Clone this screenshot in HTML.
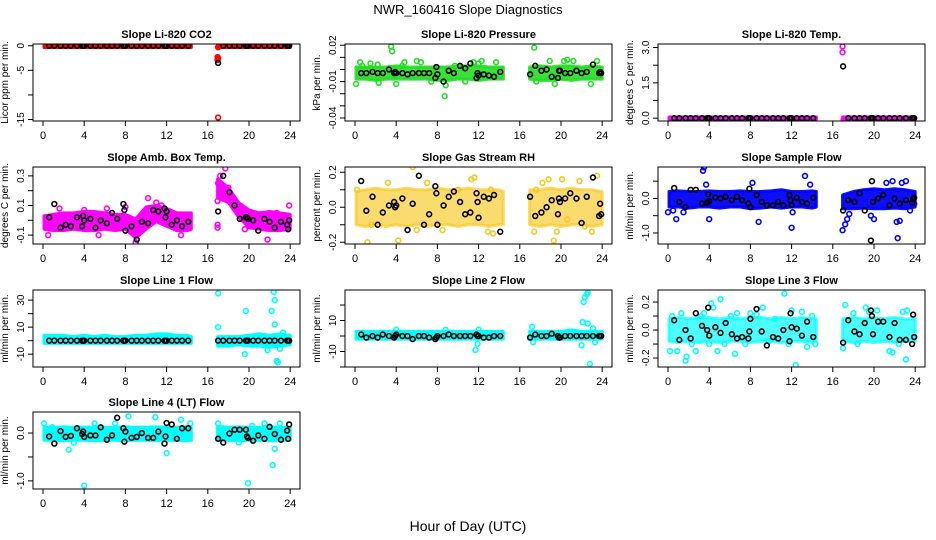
<!DOCTYPE html>
<html><head><meta charset="utf-8"><style>
html,body{margin:0;padding:0;background:#fff;}
svg{display:block;font-family:"Liberation Sans",sans-serif;}
</style></head><body>
<svg id="chart" width="936" height="540" viewBox="0 0 936 540" xmlns="http://www.w3.org/2000/svg">
<text x="468" y="14" font-size="13" text-anchor="middle">NWR_160416  Slope Diagnostics</text>
<text x="468" y="531" font-size="14" text-anchor="middle">Hour of Day (UTC)</text>
</svg>
<script>
// shared hours
const bandH1 = [0.1,1,2,3,4,5,6,7,8,9,10,11,12,13,14,14.4];
const bandH2 = [16.95,18,19,20,21,22,23,24];
const blkH = [0.6,1.1,1.7,2.2,2.7,3.3,3.8,3.9,4.0,4.6,5.1,5.6,6.2,6.7,7.2,7.8,7.9,8.0,8.6,9.1,9.6,10.2,10.7,11.2,11.8,11.9,12.0,12.5,13.0,13.5,14.1,
  17.0,17.5,18.1,18.6,19.1,19.7,19.8,19.9,20.4,20.9,21.5,22.0,22.5,23.1,23.7,23.8,23.9];
const xTicks = [0,4,8,12,16,20,24];

// CO2
const co2Lo = [-0.35,-0.35,-0.35,-0.35,-0.35,-0.35,-0.35,-0.35,-0.35,-0.35,-0.35,-0.35,-0.35,-0.35,-0.35,-0.35, -0.35,-0.35,-0.35,-0.35,-0.35,-0.35,-0.35,-0.35];
const co2Hi = [0.35,0.35,0.35,0.35,0.35,0.35,0.35,0.35,0.35,0.35,0.35,0.35,0.35,0.35,0.35,0.35, 0.35,0.35,0.35,0.35,0.35,0.35,0.35,0.35];
const co2OutH = [16.95,17.0,16.95,17.0,17.0];
const co2OutV = [-2.3,-2.6,-2.9,-14.6,-0.3];
const co2Blk = [0,0,0,0,0,0,0,0,0,0,0,0,0,0,0,0,0,0,0,0,0,0,0,0,0,0,0,0,0,0,0, -3.5,0,0,0,0,0,0,0,0,0,0,0,0,0,0,0,0];

// Pressure
const presLo = [-0.008,-0.008,-0.009,-0.008,-0.008,-0.008,-0.008,-0.008,-0.009,-0.009,-0.008,-0.008,-0.009,-0.008,-0.008,-0.008, -0.008,-0.009,-0.009,-0.008,-0.009,-0.008,-0.008,-0.008];
const presHi = [0.002,0.002,0.002,0.002,0.003,0.002,0.002,0.002,0.002,0.002,0.003,0.003,0.003,0.002,0.002,0.002, 0.002,0.003,0.002,0.003,0.003,0.002,0.003,0.002];
const presOutH = [0.1,0.5,0.7,1.5,2.3,2.2,3.5,3.6,4.0,4.6,4.8,6.0,6.4,7.4,7.9,8.7,8.8,9.7,10.7,11.5,12.0,12.3,13.7,17.4,17.6,18.9,19.4,20.3,20.6,21.2,22.9,23.5,23.9];
const presOutV = [-0.012,0.006,0.003,0.005,-0.011,0.004,0.019,0.015,-0.012,0.003,0.006,0.007,0.006,-0.01,-0.045,-0.022,-0.013,0.003,-0.01,0.006,0.005,0.007,0.006,0.018,-0.01,0.007,-0.012,0.007,0.008,0.007,-0.012,0.007,-0.046];
const presBlk = [-0.003,-0.003,-0.002,-0.003,-0.003,0.0,-0.003,-0.002,-0.003,-0.003,-0.004,-0.003,-0.003,-0.003,-0.003,-0.007,0.002,-0.004,-0.010,-0.001,-0.003,0.003,0.001,0.005,-0.007,-0.003,-0.005,-0.004,-0.005,-0.006,-0.002,
  -0.004,0.003,-0.001,0.0,-0.006,-0.007,-0.001,-0.001,-0.003,-0.003,-0.001,-0.003,-0.002,0.004,-0.003,-0.002,-0.003];

// Li-820 Temp
const tempLo = [-0.05,-0.05,-0.05,-0.05,-0.05,-0.05,-0.05,-0.05,-0.05,-0.05,-0.05,-0.05,-0.05,-0.05,-0.05,-0.05, -0.05,-0.05,-0.05,-0.05,-0.05,-0.05,-0.05,-0.05];
const tempHi = [0.05,0.05,0.05,0.05,0.05,0.05,0.05,0.05,0.05,0.05,0.05,0.05,0.05,0.05,0.05,0.05, 0.05,0.05,0.05,0.05,0.05,0.05,0.05,0.05];
const tempOutH = [16.95,16.95,17.05,17.05];
const tempOutV = [3.05,2.8,-0.1,-0.05];
const tempBlk = [0,0,0,0,0,0,0,0,0,0,0,0,0,0,0,0,0,0,0,0,0,0,0,0,0,0,0,0,0,0,0, 2.2,0,0,0,0,0,0,0,0,0,0,0,0,0,0,0,0];

// Amb box temp
const ambLo = [-0.06,-0.07,-0.07,-0.06,-0.07,-0.07,-0.06,-0.07,-0.06,-0.12,-0.06,-0.01,-0.04,-0.07,-0.07,-0.06, 0.15,0.12,0.02,-0.05,-0.06,-0.07,-0.07,-0.06];
const ambHi = [0.03,0.04,0.05,0.05,0.06,0.06,0.05,0.04,0.04,0.01,0.09,0.1,0.08,0.05,0.05,0.05, 0.28,0.22,0.12,0.07,0.05,0.06,0.05,0.04];
const ambOutH = [0.5,1.6,4.0,5.4,6.2,8.0,9.0,10.2,11.0,11.5,13.4,16.95,16.95,16.95,17.2,17.0,17.7,18.0,21.8,23.9,19.6,22.7];
const ambOutV = [-0.1,0.08,0.07,-0.1,0.08,0.09,-0.15,0.15,0.12,0.1,-0.1,0.13,-0.03,-0.05,0.3,0.25,0.35,0.22,-0.13,0.1,-0.06,0.05];
const ambBlk = [0.02,0.11,-0.05,-0.03,-0.04,0.02,-0.04,0.03,0.0,0.01,-0.05,0.0,-0.02,0.05,0.01,0.11,0.07,-0.07,-0.04,-0.13,-0.01,-0.02,0.07,0.06,0.08,0.02,0.06,-0.03,0.0,-0.04,-0.01,
  0.06,0.30,0.19,0.10,0.01,0.02,0.02,0.01,0.0,-0.07,0.01,-0.01,-0.05,-0.01,-0.03,-0.06,0.0];

// Gas stream RH
const rhLo = [-0.1,-0.11,-0.1,-0.11,-0.1,-0.11,-0.1,-0.11,-0.1,-0.1,-0.11,-0.1,-0.1,-0.11,-0.1,-0.1, -0.1,-0.11,-0.1,-0.11,-0.1,-0.1,-0.11,-0.1];
const rhHi = [0.09,0.1,0.11,0.1,0.1,0.11,0.1,0.1,0.11,0.1,0.1,0.11,0.1,0.1,0.1,0.09, 0.1,0.1,0.11,0.1,0.11,0.1,0.1,0.09];
const rhOutH = [0.2,1.2,1.6,3.2,4.2,5.6,6.0,7.0,8.5,10.0,11.3,11.6,12.9,13.4,13.2,17.4,17.6,18.2,18.8,19.3,19.6,20.1,20.6,21.8,22.3,23.0,23.5];
const rhOutV = [0.1,-0.2,-0.1,0.14,-0.19,0.23,-0.13,0.14,-0.13,0.1,0.16,0.17,-0.14,-0.15,0.1,-0.14,0.1,0.14,0.16,-0.19,-0.14,0.16,-0.07,0.15,-0.11,-0.14,0.18];
const rhBlk = [0.15,-0.02,0.06,-0.1,-0.03,0.01,0.03,0.0,0.01,0.05,-0.13,0.02,0.18,-0.1,-0.04,0.12,0.08,-0.1,0.01,0.06,0.09,0.03,-0.04,-0.03,0.08,0.03,-0.06,0.06,0.05,0.07,-0.14,
  0.06,-0.05,-0.03,0.0,0.04,-0.04,0.05,0.03,0.05,0.08,0.05,-0.09,0.06,0.17,-0.05,0.02,-0.04];

// Sample flow
const smpLo = [-0.25,-0.25,-0.28,-0.25,-0.25,-0.28,-0.25,-0.25,-0.3,-0.28,-0.25,-0.28,-0.25,-0.25,-0.28,-0.25, -0.3,-0.3,-0.28,-0.3,-0.3,-0.28,-0.3,-0.25];
const smpHi = [0.2,0.22,0.2,0.2,0.22,0.2,0.2,0.22,0.2,0.2,0.22,0.25,0.2,0.2,0.22,0.2, 0.1,0.2,0.25,0.28,0.25,0.28,0.25,0.2];
const smpOutH = [0.0,0.5,0.8,1.5,3.4,3.5,3.7,4.0,8.2,8.8,12.0,12.1,13.3,13.8,16.95,17.2,17.4,17.6,19.7,20.0,21.2,21.8,22.2,22.5,22.3,22.7,23.1,23.5,23.9];
const smpOutV = [-0.4,-0.35,-0.6,-0.4,0.8,0.9,0.4,-0.6,0.45,-0.68,-0.85,-0.4,0.65,0.4,-0.92,-0.75,-0.6,-0.45,-0.5,-0.6,0.45,0.5,-0.68,-0.65,-1.15,0.45,0.5,-0.35,-0.15];
const smpBlk = [0.3,-0.1,-0.25,0.25,0.25,-0.15,-0.12,0.12,-0.08,0.03,0.0,0.05,-0.05,0.05,-0.05,-0.15,0.28,-0.25,0.1,-0.1,-0.2,-0.2,-0.1,-0.2,0.1,-0.05,-0.2,0.02,-0.1,-0.15,0.02,
  -0.35,-0.05,-0.1,0.15,-0.35,-1.22,0.5,-0.1,0.0,0.1,-0.2,0.0,-0.15,-0.05,-0.12,-0.02,0.02];

// Line 1
const l1Lo = [-2,-2,-2,-2,-2,-2,-2,-2,-2,-2,-2,-2,-2,-2,-2,-2, -4,-4,-3,-4,-4,-5,-4,-3];
const l1Hi = [4,4,4,3,4,3,4,3,3,4,4,5,5,4,4,3, 3,3,3,4,5,4,5,4];
const l1OutH = [17.0,17.0,19.7,19.6,22.2,22.4,22.5,22.5,22.7,22.8,23.0,23.3,21.8,18.0];
const l1OutV = [35,10,22,-10,22,36,30,12,-15,-16,-6,6,-7,2];
const l1Blk = [0,0,0,0,0,0,0,0,0,0,0,0,0,0,0,0,0,0,0,0,0,0,0,0,0,0,0,0,0,0,0, 0,0,0,0,0,0,0,0,0,0,0,0,0,0,0,0,0];

// Line 2
const l2Lo = [-2,-2,-2,-2,-2,-2,-2,-2,-2,-2,-2,-2,-2,-2,-2,-2, -2,-2,-2,-2,-2,-2,-2,-2];
const l2Hi = [3,3,3,3,3,3,3,3,3,3,3,3,3,3,3,3, 3,3,3,3,4,3,3,3];
const l2OutH = [17.2,17.3,22.0,22.1,22.2,22.3,22.5,22.6,22.6,22.8,23.1,23.3,11.7,11.9,12.0,4.0,8.8];
const l2OutV = [6,-4,-6,9,22,25,27,28,8,-18,5,-4,-9,-5,4,4,4];
const l2Blk = [1,-1,0,-1,1,0,-1,0,1,0,0,-2,0,0,-1,-2,-1,0,0,1,0,0,0,0,1,0,0,-1,-1,0,0,
  -1,1,0,0,1.5,0,-1,-1,0,0,0,0,0,0,0,0,0];

// Line 3
const l3Lo = [-0.08,-0.09,-0.08,-0.09,-0.08,-0.09,-0.08,-0.08,-0.09,-0.08,-0.08,-0.09,-0.08,-0.08,-0.09,-0.08, -0.08,-0.09,-0.08,-0.09,-0.08,-0.09,-0.08,-0.08];
const l3Hi = [0.08,0.09,0.08,0.09,0.09,0.08,0.09,0.08,0.09,0.09,0.08,0.09,0.08,0.09,0.08,0.08, 0.08,0.09,0.08,0.09,0.08,0.09,0.08,0.08];
const l3OutH = [0.2,0.4,0.9,1.3,1.7,1.8,2.3,2.7,3.2,3.5,4.0,4.2,4.4,4.8,5.1,5.5,6.1,6.5,6.7,7.5,8.0,8.6,9.2,9.8,10.4,11.3,11.7,12.0,12.4,13.0,13.5,14.0,14.3,17.0,17.2,18.0,18.4,19.2,19.5,20.3,21.5,21.8,22.4,22.8,23.1,23.2];
const l3OutV = [-0.15,0.1,-0.15,0.12,-0.22,-0.19,-0.1,-0.15,0.1,0.12,-0.1,0.19,0.16,-0.15,0.22,-0.1,0.1,-0.17,0.12,-0.1,0.12,0.11,0.16,-0.08,0.08,0.26,-0.1,0.14,-0.25,0.13,-0.12,0.1,-0.1,-0.13,0.18,0.12,-0.1,0.16,0.13,0.14,-0.15,-0.16,-0.1,0.13,-0.21,0.14];
const l3Blk = [0.07,-0.07,0.0,-0.06,0.12,0.03,0.0,0.16,-0.04,0.02,-0.02,0.05,-0.03,-0.06,-0.05,-0.06,-0.01,0.08,0.15,-0.01,-0.11,-0.05,-0.06,0.0,-0.08,0.12,0.02,0.01,-0.04,0.06,-0.05,
  -0.09,0.07,-0.01,-0.03,0.05,0.14,0.1,-0.03,0.06,0.06,-0.05,0.05,-0.07,-0.07,-0.1,0.11,-0.05];

// Line 4 (LT)
const l4Lo = [-0.15,-0.15,-0.16,-0.15,-0.15,-0.16,-0.15,-0.15,-0.16,-0.15,-0.15,-0.16,-0.15,-0.15,-0.16,-0.15, -0.15,-0.15,-0.16,-0.15,-0.15,-0.16,-0.15,-0.15];
const l4Hi = [0.12,0.12,0.13,0.12,0.12,0.13,0.12,0.12,0.13,0.12,0.12,0.13,0.12,0.12,0.13,0.12, 0.14,0.12,0.13,0.12,0.12,0.13,0.12,0.12];
const l4OutH = [0.1,0.9,2.5,3.0,4.0,5.0,7.0,8.3,10.9,12.0,13.4,14.3,17.0,19.0,19.9,20.3,21.5,22.3,22.5,23.0];
const l4OutV = [0.2,0.12,-0.35,-0.2,-1.1,0.2,0.2,0.35,0.33,-0.42,0.28,0.2,0.2,-0.2,-1.05,0.15,0.2,-0.67,-0.33,0.2];
const l4Blk = [-0.07,-0.22,0.04,-0.08,-0.06,0.1,-0.02,0.03,-0.08,-0.05,-0.05,0.12,-0.14,-0.05,0.32,0.1,-0.18,0.03,-0.1,-0.08,0.0,-0.1,-0.1,0.03,-0.22,-0.07,0.21,0.18,-0.12,0.1,0.1,
  -0.12,-0.2,-0.01,0.07,0.07,0.07,-0.07,-0.1,-0.16,-0.05,-0.12,0.13,-0.02,-0.14,0.05,-0.12,0.18];

const NS = "http://www.w3.org/2000/svg";
const svg = document.getElementById('chart');
function mk(tag, attrs, parent){ const e=document.createElementNS(NS,tag); for(const k in attrs) e.setAttribute(k,attrs[k]); (parent||svg).appendChild(e); return e; }

const panels = [
 {id:'co2',title:'Slope Li-820 CO2',ylab:'Licor ppm per min.',col:0,row:0,ymin:-15.3,ymax:0.35,yt:[0,-5,-10,-15],yl:{'0':'0','-5':'-5','-15':'-15'},color:'#ff0000',op:1,lo:co2Lo,hi:co2Hi,oh:co2OutH,ov:co2OutV,blk:co2Blk},
 {id:'pressure',title:'Slope Li-820 Pressure',ylab:'kPa per min.',col:1,row:0,ymin:-0.0425,ymax:0.021,yt:[0.02,0.01,0,-0.01,-0.02,-0.03,-0.04],yl:{'0.02':'0.02','-0.01':'-0.01','-0.04':'-0.04'},color:'#22dd22',op:0.9,lo:presLo,hi:presHi,oh:presOutH,ov:presOutV,blk:presBlk},
 {id:'li820-temp',title:'Slope Li-820 Temp.',ylab:'degrees C per min.',col:2,row:0,ymin:-0.12,ymax:3.15,yt:[0,0.75,1.5,2.25,3.0],yl:{'0':'0.0','1.5':'1.5','3':'3.0'},color:'#ff00ff',op:1,lo:tempLo,hi:tempHi,oh:tempOutH,ov:tempOutV,blk:tempBlk},
 {id:'amb-box-temp',title:'Slope Amb. Box Temp.',ylab:'degrees C per min.',col:0,row:1,ymin:-0.16,ymax:0.36,yt:[-0.1,0,0.1,0.2,0.3],yl:{'-0.1':'-0.1','0.1':'0.1','0.3':'0.3'},color:'#ff00ff',op:1,lo:ambLo,hi:ambHi,oh:ambOutH,ov:ambOutV,blk:ambBlk},
 {id:'gas-stream-rh',title:'Slope Gas Stream RH',ylab:'percent per min.',col:1,row:1,ymin:-0.21,ymax:0.23,yt:[-0.2,-0.1,0,0.1,0.2],yl:{'-0.2':'-0.2','0':'0.0','0.2':'0.2'},color:'#f7c820',op:0.65,lo:rhLo,hi:rhHi,oh:rhOutH,ov:rhOutV,blk:rhBlk},
 {id:'sample-flow',title:'Slope Sample Flow',ylab:'ml/min per min.',col:2,row:1,ymin:-1.32,ymax:0.91,yt:[-1,-0.5,0,0.5],yl:{'-1':'-1.0','0':'0.0'},color:'#0000ff',op:0.95,lo:smpLo,hi:smpHi,oh:smpOutH,ov:smpOutV,blk:smpBlk},
 {id:'line1-flow',title:'Slope Line 1 Flow',ylab:'ml/min per min.',col:0,row:2,ymin:-19.5,ymax:37.5,yt:[-10,0,10,20,30],yl:{'-10':'-10','10':'10','30':'30'},color:'#00ffff',op:1,lo:l1Lo,hi:l1Hi,oh:l1OutH,ov:l1OutV,blk:l1Blk},
 {id:'line2-flow',title:'Slope Line 2 Flow',ylab:'ml/min per min.',col:1,row:2,ymin:-20,ymax:29.7,yt:[-20,-10,0,10,20],yl:{'-10':'-10','10':'10'},color:'#00ffff',op:1,lo:l2Lo,hi:l2Hi,oh:l2OutH,ov:l2OutV,blk:l2Blk},
 {id:'line3-flow',title:'Slope Line 3 Flow',ylab:'ml/min per min.',col:2,row:2,ymin:-0.264,ymax:0.286,yt:[-0.2,-0.1,0,0.1,0.2],yl:{'-0.2':'-0.2','0':'0.0','0.2':'0.2'},color:'#00ffff',op:0.7,lo:l3Lo,hi:l3Hi,oh:l3OutH,ov:l3OutV,blk:l3Blk},
 {id:'line4-flow',title:'Slope Line 4 (LT) Flow',ylab:'ml/min per min.',col:0,row:3,ymin:-1.17,ymax:0.44,yt:[-1,-0.5,0],yl:{'-1':'-1.0','0':'0.0'},color:'#00ffff',op:1,lo:l4Lo,hi:l4Hi,oh:l4OutH,ov:l4OutV,blk:l4Blk}
];

const colX=[33,345,658], rowY=[44,167,290,412], W=267, H=77;

panels.forEach(p=>{
  const L=colX[p.col], T=rowY[p.row];
  const g=mk('g',{});
  
  
  const xs=h=>L+10+h*10.3;
  const ys=v=>T+H-(v-p.ymin)/(p.ymax-p.ymin)*H;
  const cp=mk('clipPath',{id:'cp-'+p.id},g); mk('rect',{x:L,y:T,width:W,height:H},cp);
  const plot=mk('g',{'clip-path':'url(#cp-'+p.id+')'},g);
  [[0,bandH1],[16,bandH2]].forEach(([off,bh])=>{
    let pts=bh.map((h,i)=>xs(h)+','+ys(p.hi[off+i]));
    for(let i=bh.length-1;i>=0;i--) pts.push(xs(bh[i])+','+ys(p.lo[off+i]));
    const band=mk('polygon',{points:pts.join(' '),fill:p.color,'fill-opacity':p.op,stroke:p.color,'stroke-opacity':p.op,'stroke-width':3,'stroke-linejoin':'round'},plot);
    
    
  });
  p.oh.forEach((h,i)=>{
    const c=mk('circle',{cx:xs(h),cy:ys(p.ov[i]),r:2.4,fill:'none',stroke:p.color,'stroke-width':1.6},plot);
    
    
  });
  blkH.forEach((h,i)=>{
    const c=mk('circle',{cx:xs(h),cy:ys(p.blk[i]),r:2.4,fill:'none',stroke:'#000','stroke-width':1.6},plot);
    
    
  });
  mk('rect',{x:L,y:T,width:W,height:H,fill:'none',stroke:'#000','stroke-width':1},g);
  const t=mk('text',{x:L+W/2,y:T-6,'font-size':11,'font-weight':'bold','text-anchor':'middle'},g);
  t.textContent=p.title;
  
  
  xTicks.forEach(v=>{
    mk('line',{x1:xs(v),x2:xs(v),y1:T+H,y2:T+H+5,stroke:'#000'},g);
    const tx=mk('text',{x:xs(v),y:T+H+18,'font-size':11,'text-anchor':'middle'},g);
    tx.textContent=v;
    
    
  });
  p.yt.forEach(v=>{
    const y=ys(v);
    mk('line',{x1:L-5,x2:L,y1:y,y2:y,stroke:'#000'},g);
    const key=String(v);
    if(p.yl[key]!==undefined){
      const ty=mk('text',{x:L-9,y:y,'font-size':10,'text-anchor':'middle',transform:'rotate(-90 '+(L-9)+' '+y+')'},g);
      ty.textContent=p.yl[key];
      
      
    }
  });
  const yl=mk('text',{x:L-25,y:T+H/2,'font-size':10,'text-anchor':'middle',transform:'rotate(-90 '+(L-25)+' '+(T+H/2)+')'},g);
  yl.textContent=p.ylab;
  
  
});
</script>
</body></html>
